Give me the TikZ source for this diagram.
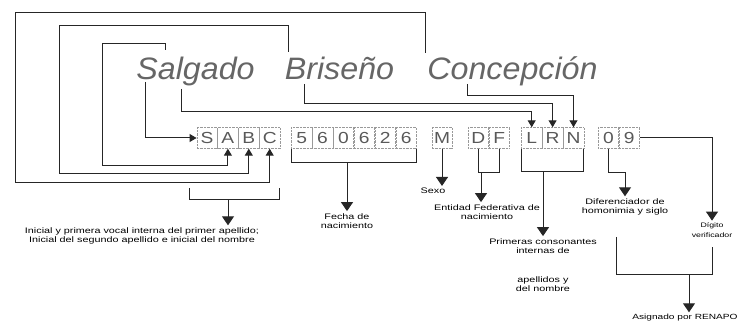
\documentclass[tikz,border=0pt]{standalone}
\usepackage{fontspec}
\setmainfont{Liberation Sans}
\newfontfamily\titlefont[FakeStretch=1.04]{Liberation Sans}
\newfontfamily\boxfont[FakeStretch=1.2]{Liberation Sans}
\newfontfamily\lblfont[FakeStretch=1.35]{Liberation Sans}
\usetikzlibrary{arrows.meta,positioning}

\begin{document}
\begin{tikzpicture}[x=1pt, y=-1pt,
    chr/.style = {draw=black!40, densely dotted, minimum width=20.5pt, minimum height=21pt, inner sep=0pt, text=black!65, font=\boxfont\fontsize{16}{16}\selectfont},
    word/.style = {anchor=base, inner sep=0pt, text=black!60, font=\titlefont\itshape\fontsize{31}{31}\selectfont},
    lbl/.style = {align=center, inner sep=0pt, font=\lblfont\fontsize{8}{9.5}\selectfont},
    lnk/.style = {draw=black!85, line width=1pt},
    arr/.style = {-{Triangle[width=8pt,length=7pt]}},
    bigarr/.style = {-{Triangle[width=12pt,length=9pt]}, shorten >=2pt}]
    \useasboundingbox (0,0) rectangle (740,323);

    % nombre
    \node[word] (w1) at (195.5,80) {Salgado};
    \node[word] (w2) at (339.5,80) {Briseño};
    \node[word] (w3) at (512.5,80) {Concepción};

    % clave
    \node[chr] (S) at (207,138) {S};
    \node[chr] (A) [right=0pt of S] {A};
    \node[chr] (B) [right=0pt of A] {B};
    \node[chr] (C) [right=0pt of B] {C};
    \node[chr] (d1) [right=11pt of C] {5};
    \node[chr] (d2) [right=0pt of d1] {6};
    \node[chr] (d3) [right=0pt of d2] {0};
    \node[chr] (d4) [right=0pt of d3] {6};
    \node[chr] (d5) [right=0pt of d4] {2};
    \node[chr] (d6) [right=0pt of d5] {6};
    \node[chr] (M) [right=15pt of d6] {M};
    \node[chr] (D) [right=15.5pt of M] {D};
    \node[chr] (F) [right=0pt of D] {F};
    \node[chr] (L) [right=11.5pt of F] {L};
    \node[chr] (R) [right=0pt of L] {R};
    \node[chr] (N) [right=0pt of R] {N};
    \node[chr] (h1) [right=14pt of N] {0};
    \node[chr] (h2) [right=0pt of h1] {9};

    % textos
    \node[lbl] (lSABC) at (142,236) {Inicial y primera vocal interna del primer apellido;\\Inicial del segundo apellido e inicial del nombre};
    \node[lbl] (lFecha) at (347,221) {Fecha de\\nacimiento};
    \node[lbl] (lSexo) at (433,191) {Sexo};
    \node[lbl] (lEnt) at (487,212) {Entidad Federativa de\\nacimiento};
    \node[lbl] (lCons) at (543,246) {Primeras consonantes\\internas de};
    \node[lbl] (lCons2) at (543,284) {apellidos y\\del nombre};
    \node[lbl] (lDif) at (625,207) {Diferenciador de\\homonimia y siglo};
    \node[lbl, font=\lblfont\fontsize{6.5}{9.5}\selectfont] (lDig) at (712,230) {Dígito\\verificador};
    \node[lbl, font=\lblfont\fontsize{7.5}{9.5}\selectfont] (lRen) at (685,318) {Asignado por RENAPO};

    \coordinate (cC) at (425,53);
    \coordinate (bB) at (288,52);
    \coordinate (sA) at (165,50);
    \coordinate (sS) at (145,82);
    \coordinate (sL) at (181,89);
    \coordinate (bR) at (304,84);
    \coordinate (cN) at (467,84);

    \draw[lnk, arr] (cC) |- (15,13) -- (15,183) -| (C.south);
    \draw[lnk, arr] (bB) |- (59,26) -- (59,174) -| (B.south);
    \draw[lnk, arr] (sA) |- (102,44) -- (102,166) -| (A.south);
    \draw[lnk, arr] (sS) |- (S.west);
    \draw[lnk, arr] (sL) -- (181,112) -| (L.north);
    \draw[lnk, arr] (bR) -- (304,104) -| (R.north);
    \draw[lnk, arr] (cN) -- (467,96) -| (N.north);

    % llaves de abajo
    \coordinate (gA) at (228,200);
    \coordinate (gE) at (481,173);
    \coordinate (gR) at (689,275);
    \draw[lnk] (189,188) |- (279,200) -- (279,188);
    \draw[lnk, bigarr] (gA) -- (gA |- lSABC.north);
    \draw[lnk] (d1.south west) |- (d6.south east |- 0,163) -- (d6.south east);
    \draw[lnk, bigarr] (347,163) -- (lFecha.north);
    \draw[lnk, bigarr] (M.south) -- (M.south |- lSexo.north);
    \draw[lnk] (D.south) |- (F.south |- 0,173) -- (F.south);
    \draw[lnk, bigarr] (gE) -- (gE |- lEnt.north);
    \draw[lnk] (L.south west) |- (N.south east |- 0,172) -- (N.south east);
    \draw[lnk, bigarr] (543,172) -- (lCons.north);
    \draw[lnk, bigarr] (h1.south) |- (625,173) -- (lDif.north);
    \draw[lnk, bigarr] (h2.east) -| (lDig.north);
    \draw[lnk] (616,237) |- (712,275) -- (712,247);
    \draw[lnk, bigarr] (gR) -- (gR |- lRen.north);

    %\draw[lnk] (lCons) -- (lCons2);
\end{tikzpicture}
\end{document}
